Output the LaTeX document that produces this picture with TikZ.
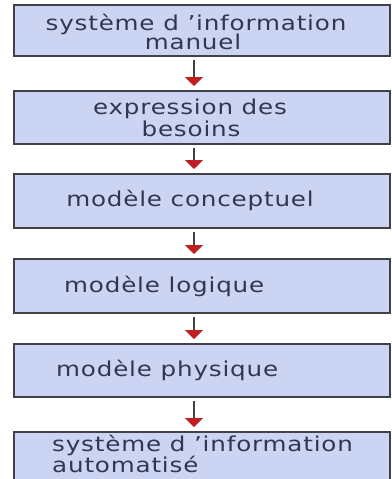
\documentclass[tikz,border=0pt]{standalone}
\usepackage{fontspec}
\setmainfont[FakeStretch=1.2,LetterSpace=4]{DejaVu Sans}
\usetikzlibrary{arrows.meta}
\definecolor{boxfill}{RGB}{204,212,244}
\definecolor{boxline}{RGB}{66,66,70}
\definecolor{inkblue}{RGB}{50,54,78}
\definecolor{tipred}{RGB}{190,30,36}
\begin{document}
\begin{tikzpicture}[x=1pt,y=-1pt,
  stage/.style={draw=boxline,fill=boxfill,line width=1.5pt,minimum width=376pt,inner sep=0pt,anchor=north west},
  txt/.style={text=inkblue,font=\fontsize{20.5}{21}\selectfont,inner sep=0pt},
  flow/.style={draw=boxline,line width=1.6pt,-{Triangle[width=18pt,length=9pt,color=tipred]}}]
  \clip (0,0) rectangle (391,479);
  \fill[white] (0,0) rectangle (391,479);

  % stages of the design process
  \node[stage,minimum height=51pt] (b1) at (13,4) {};
  \node[stage,minimum height=53pt] (b2) at (13,90) {};
  \node[stage,minimum height=54pt] (b3) at (13,173) {};
  \node[stage,minimum height=54pt] (b4) at (13,258) {};
  \node[stage,minimum height=53pt] (b5) at (13,343) {};
  \node[stage,minimum height=90pt] (b6) at (13,431) {};

  % captions
  \node[txt,anchor=base] (t1a) at (196,30) {système d ’information};
  \node[txt,anchor=base] (t1b) at (193,49) {manuel};
  \node[txt,anchor=base] (t2a) at (190,114) {expression des};
  \node[txt,anchor=base] (t2b) at (191,136) {besoins};
  \node[txt,anchor=base] (t3) at (190,206) {modèle conceptuel};
  \node[txt,anchor=base west] (t4) at (64,292) {modèle logique};
  \node[txt,anchor=base west] (t5) at (56,376) {modèle physique};
  \node[txt,anchor=base west] (t6a) at (52,451) {système d ’information};
  \node[txt,anchor=base west] (t6b) at (52,472) {automatisé};

  % downward arrows between stages
  \coordinate (axis) at (194,0);
  \foreach \a/\b in {b1/b2,b2/b3,b3/b4,b4/b5,b5/b6}
    \draw[flow,shorten <=3pt,shorten >=4pt] (\a.south -| axis) -- (\b.north -| axis);
\end{tikzpicture}
\end{document}
